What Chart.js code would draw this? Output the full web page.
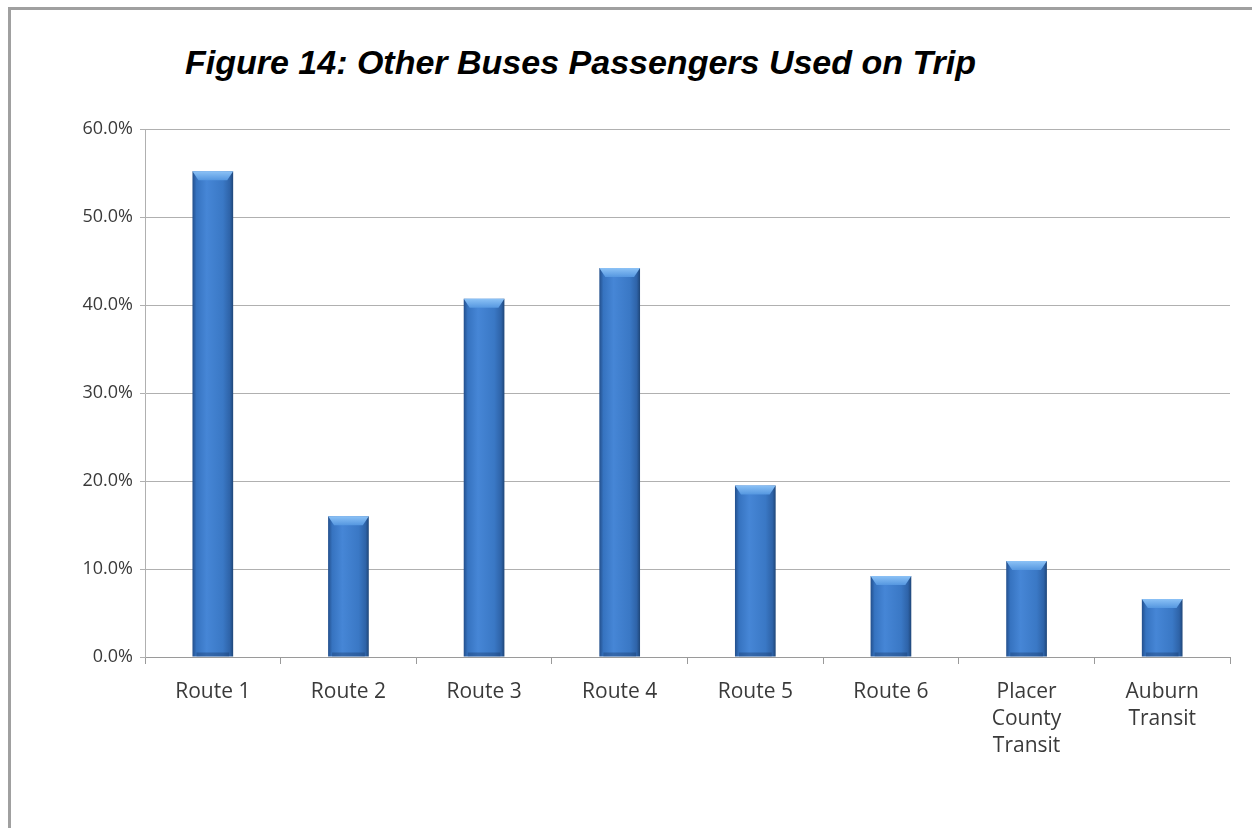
<!DOCTYPE html>
<html lang="en">

<head>
    <meta charset="UTF-8">
    <title>Figure 14</title>
    <script src="https://cdn.jsdelivr.net/npm/chart.js"></script>
    <style>
        html, body {
            margin: 0;
            padding: 0;
            background: #ffffff;
            overflow: hidden;
        }

        /* moldura cinza em cima e à esquerda */
        .moldura {
            position: absolute;
            left: 8px;
            top: 7px;
            width: 1300px;
            height: 900px;
            border-top: 3px solid #a0a0a0;
            border-left: 3px solid #a0a0a0;
        }

        .titulo {
            position: absolute;
            left: 185px;
            top: 45px;
            margin: 0;
            font-family: "Liberation Sans", Arial, sans-serif;
            font-weight: bold;
            font-style: italic;
            font-size: 34px;
            line-height: 1;
            color: #000;
            white-space: nowrap;
        }

        #grafico {
            position: absolute;
            left: 0;
            top: 0;
        }
    </style>
</head>

<body>
    <div class="moldura"></div>
    <h1 class="titulo">Figure 14: Other Buses Passengers Used on Trip</h1>
    <canvas id="grafico" width="1252" height="828"></canvas>

    <script>
        // categorias e valores (%)
        const rotas = ['Route 1', 'Route 2', 'Route 3', 'Route 4', 'Route 5', 'Route 6',
            ['Placer', 'County', 'Transit'], ['Auburn', 'Transit']];
        const percentuais = [55.2, 16.0, 40.7, 44.2, 19.5, 9.2, 10.9, 6.6];
        const escalaY = { min: 0, max: 60, passo: 10 };

        const larguraBarra = 0.3;

        // gradiente horizontal de cada barra (bordas mais escuras)
        function corBarra(context) {
            const chart = context.chart;
            const eixoX = chart.scales.x;
            if (!eixoX || !eixoX.width) {
                return '#3a76c2';
            }
            const centro = eixoX.getPixelForValue(context.dataIndex);
            const w = eixoX.width / rotas.length * larguraBarra;
            const g = chart.ctx.createLinearGradient(centro - w / 2, 0, centro + w / 2, 0);
            g.addColorStop(0, '#234f8c');
            g.addColorStop(0.1, '#3673c0');
            g.addColorStop(0.35, '#4686d6');
            g.addColorStop(0.75, '#3a78c5');
            g.addColorStop(0.92, '#2e63a8');
            g.addColorStop(1, '#1f4678');
            return g;
        }

        // chanfro claro no topo das barras
        const chanfro = {
            id: 'chanfro',
            afterDatasetsDraw(chart) {
                const ctx = chart.ctx;
                chart.getDatasetMeta(0).data.forEach(function (barra) {
                    const w = barra.width;
                    const esq = barra.x - w / 2;
                    const dir = barra.x + w / 2;
                    const topo = barra.y;
                    const h = 9;
                    ctx.save();
                    const g = ctx.createLinearGradient(0, topo, 0, topo + h);
                    g.addColorStop(0, '#8cc2f6');
                    g.addColorStop(1, '#5597e0');
                    ctx.fillStyle = g;
                    ctx.beginPath();
                    ctx.moveTo(esq, topo);
                    ctx.lineTo(dir, topo);
                    ctx.lineTo(dir - 6, topo + h);
                    ctx.lineTo(esq + 6, topo + h);
                    ctx.closePath();
                    ctx.fill();
                    // faixa escura na base
                    ctx.fillStyle = 'rgba(20, 50, 95, 0.35)';
                    ctx.fillRect(esq + 4, barra.base - 4, w - 8, 4);
                    ctx.restore();
                });
            }
        };

        const fonteFamilia = '"Open Sans", "Noto Sans", sans-serif';

        new Chart(document.getElementById('grafico'), {
            type: 'bar',
            data: {
                labels: rotas,
                datasets: [{
                    data: percentuais,
                    backgroundColor: corBarra,
                    borderWidth: 0,
                    barPercentage: larguraBarra,
                    categoryPercentage: 1
                }]
            },
            options: {
                responsive: false,
                animation: false,
                layout: {
                    padding: { left: 0, right: 22, top: 129, bottom: 0 }
                },
                plugins: {
                    legend: { display: false },
                    tooltip: { enabled: false }
                },
                scales: {
                    x: {
                        afterFit: function (scale) { scale.height = 171; },
                        grid: {
                            offset: true,
                            drawOnChartArea: false,
                            drawTicks: true,
                            tickLength: 7,
                            color: '#9a9a9a'
                        },
                        border: { color: '#9a9a9a', width: 1 },
                        ticks: {
                            color: '#3a3a3a',
                            font: { family: fonteFamilia, size: 21, lineHeight: 1.3 },
                            padding: 14,
                            maxRotation: 0,
                            autoSkip: false
                        }
                    },
                    y: {
                        min: escalaY.min,
                        max: escalaY.max,
                        afterFit: function (scale) { scale.width = 145; },
                        grid: {
                            color: '#b0b0b0',
                            tickLength: 5
                        },
                        border: { color: '#b0b0b0', width: 1 },
                        ticks: {
                            stepSize: escalaY.passo,
                            color: '#3a3a3a',
                            font: { family: fonteFamilia, size: 18 },
                            padding: 7,
                            callback: function (v) { return v.toFixed(1) + '%'; }
                        }
                    }
                }
            },
            plugins: [chanfro]
        });
    </script>
</body>

</html>
